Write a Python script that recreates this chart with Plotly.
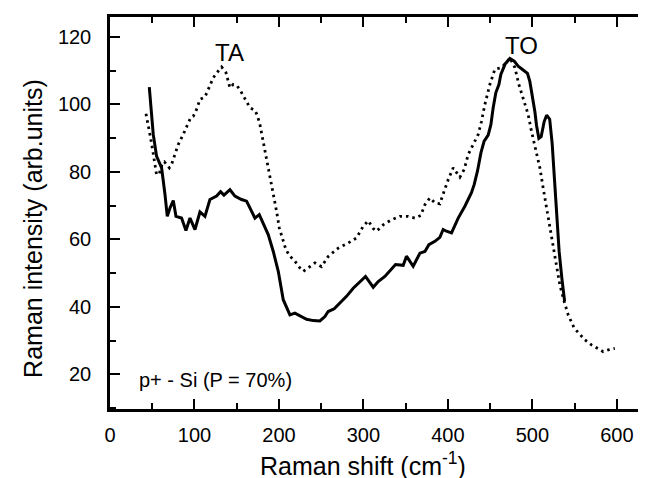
import plotly.graph_objects as go

# --- data (Raman shift in cm-1, intensity in arb. units) ---
solid_shift = [46.5, 51.2, 55.1, 61.1, 65.1, 67.8, 71.0, 74.9, 78.1, 84.7, 89.9, 94.7,
               100.6, 106.5, 112.4, 118.3, 126.2, 130.9, 134.9, 142.0, 147.9, 155.7,
               161.7, 167.6, 171.6, 176.7, 181.4, 187.3, 193.3, 199.2, 205.1, 213.0,
               218.9, 226.7, 232.7, 240.6, 248.5, 254.4, 258.3, 265.4, 272.2, 280.0,
               287.9, 293.8, 302.5, 311.6, 317.5, 325.4, 331.4, 338.0, 347.1, 351.0,
               358.9, 366.9, 372.8, 377.5, 384.6, 390.5, 394.4, 398.3, 404.3, 412.2,
               420.1, 424.9, 427.9, 431.1, 435.0, 439.1, 442.9, 447.7, 450.9, 453.6,
               456.8, 460.4, 462.7, 467.8, 473.4, 478.5, 483.2, 489.1, 494.2, 497.0,
               499.8, 503.0, 504.9, 507.7, 510.4, 514.0, 516.9, 520.5, 523.4, 525.8,
               528.5, 531.7, 534.9, 538.2]
solid_int = [105.1, 91.1, 84.7, 81.2, 73.3, 66.8, 69.3, 71.5, 66.8, 66.3, 62.6, 66.3,
             62.9, 68.1, 66.8, 71.8, 72.8, 74.1, 73.1, 74.7, 72.8, 71.8,
             71.3, 68.3, 66.3, 67.3, 64.8, 61.4, 56.4, 50.5, 42.1, 37.6,
             38.1, 37.1, 36.3, 35.9, 35.8, 37.1, 38.6, 39.4, 41.1, 43.1,
             45.5, 47.0, 49.0, 45.8, 47.5, 49.0, 50.7, 52.5, 52.3, 55.0,
             52.0, 55.9, 56.4, 58.4, 59.4, 60.6, 62.9, 62.4, 61.9, 66.3,
             69.8, 72.5, 73.8, 76.2, 80.2, 85.6, 89.1, 90.9, 94.0, 99.0,
             103.5, 105.9, 108.9, 112.0, 113.6, 112.8, 111.3, 110.2, 109.2, 106.8,
             102.8, 97.8, 93.8, 89.9, 90.4, 94.9, 96.8, 95.6, 88.5, 78.7,
             67.2, 56.4, 48.5, 41.6]

dotted_shift = [42.6, 45.3, 48.0, 50.4, 53.3, 55.1, 58.3, 62.2, 64.3, 70.2, 72.9, 76.9,
                80.8, 86.7, 90.7, 95.4, 98.6, 102.5, 106.5, 112.4, 117.5, 122.2, 128.2,
                132.1, 137.3, 142.0, 145.9, 150.7, 154.6, 159.8, 165.7, 171.6, 174.3,
                177.5, 180.6, 184.1, 187.3, 191.2, 194.1, 197.2, 200.4, 204.3, 208.3,
                213.0, 218.9, 224.9, 228.8, 242.6, 250.4, 258.3, 270.2, 282.0, 291.8,
                299.8, 305.7, 311.6, 315.5, 323.4, 333.3, 343.2, 353.0, 360.9, 368.0,
                372.8, 378.7, 384.6, 390.5, 395.6, 400.4, 406.3, 414.2, 419.3, 424.0,
                429.9, 435.9, 439.8, 443.8, 449.7, 455.6, 463.4, 469.3, 473.4, 479.3,
                484.0, 489.1, 495.0, 498.9, 504.9, 508.9, 512.8, 516.7, 520.7, 524.6,
                528.5, 532.5, 537.6, 542.4, 549.5, 556.2, 562.1, 570.0, 577.0, 583.8,
                589.7, 597.6]
dotted_int = [97.2, 94.0, 90.1, 86.6, 82.7, 79.2, 79.4, 82.7, 83.0, 81.2, 82.2, 85.1,
              88.1, 91.1, 93.6, 96.0, 96.5, 98.5, 101.5, 102.2, 105.1, 107.9, 109.9,
              111.1, 109.4, 104.9, 105.9, 105.4, 104.0, 101.5, 99.0, 98.2, 96.8,
              94.0, 90.1, 85.6, 81.2, 76.2, 72.3, 68.3, 63.4, 59.9, 56.9,
              55.0, 53.5, 51.5, 50.5, 53.0, 51.9, 54.9, 57.4, 58.9, 60.4,
              63.9, 65.5, 63.2, 62.4, 64.3, 65.8, 66.8, 66.8, 66.3, 67.1,
              70.3, 72.3, 70.8, 70.5, 74.3, 77.7, 81.2, 78.4, 80.7, 85.1,
              88.1, 91.1, 95.0, 100.0, 105.9, 110.4, 110.9, 112.4, 113.8, 110.9,
              105.9, 102.0, 97.0, 92.1, 86.1, 81.2, 75.2, 69.3, 63.4, 57.4,
              51.5, 46.5, 41.6, 37.6, 33.7, 31.7, 30.2, 28.7, 27.7, 26.7,
              27.2, 27.7]

x_range = [0, 644]
y_range = [9.7, 125.9]
FONT = "Liberation Sans, Arial, Helvetica, sans-serif"

fig = go.Figure()

fig.add_trace(go.Scatter(x=dotted_shift, y=dotted_int, mode="lines",
                         line=dict(color="black", width=2.8, dash="2.5px,4px"),
                         hoverinfo="skip"))
fig.add_trace(go.Scatter(x=solid_shift, y=solid_int, mode="lines",
                         line=dict(color="black", width=3),
                         hoverinfo="skip"))
# dummy trace so the right-hand tick axis gets drawn
fig.add_trace(go.Scatter(x=solid_shift[:1], y=solid_int[:1], yaxis="y2",
                         mode="markers", marker=dict(opacity=0), hoverinfo="skip"))

tick_style = dict(ticks="inside", ticklen=10, tickwidth=2, tickcolor="black")
minor_style = dict(ticks="inside", ticklen=6, tickwidth=2, tickcolor="black")

fig.update_layout(
    template="none",
    width=646, height=478,
    margin=dict(l=102, r=0, t=9, b=77),
    paper_bgcolor="white", plot_bgcolor="white",
    showlegend=False,
    font=dict(family=FONT, color="black", size=20),
    xaxis=dict(range=x_range, showgrid=False, zeroline=False, automargin=False,
               showline=True, linecolor="black", linewidth=2.5, mirror="ticks",
               tick0=0, dtick=100, minor=dict(dtick=50, **minor_style),
               ticklabelstandoff=6, tickfont=dict(size=20), **tick_style),
    yaxis=dict(range=y_range, showgrid=False, zeroline=False, automargin=False,
               showline=True, linecolor="black", linewidth=2.5,
               tick0=0, dtick=20, minor=dict(dtick=10, **minor_style),
               ticklabelstandoff=12, tickfont=dict(size=20), **tick_style),
    yaxis2=dict(range=y_range, overlaying="y", side="right", showgrid=False,
                zeroline=False, showline=False, showticklabels=False,
                automargin=False,
                tick0=0, dtick=20, minor=dict(dtick=10, **minor_style),
                **tick_style),
)

fig.add_annotation(x=300, y=-0.14, xref="x", yref="paper", showarrow=False,
                   text="Raman shift (cm<sup>-1</sup>)", font=dict(size=25),
                   xanchor="center", yanchor="middle")
fig.add_annotation(x=-0.143, y=0.46, xref="paper", yref="paper", showarrow=False,
                   text="Raman intensity (arb.units)", textangle=-90,
                   font=dict(size=25), xanchor="center", yanchor="middle")
fig.add_annotation(x=141, y=115.3, showarrow=False, text="TA",
                   font=dict(size=24), xanchor="center", yanchor="middle")
fig.add_annotation(x=487, y=117.4, showarrow=False, text="TO",
                   font=dict(size=24), xanchor="center", yanchor="middle")
fig.add_annotation(x=31.5, y=18.3, showarrow=False, text="p+ - Si (P = 70%)",
                   font=dict(size=20), xanchor="left", yanchor="middle")

fig.write_html("out.html")
